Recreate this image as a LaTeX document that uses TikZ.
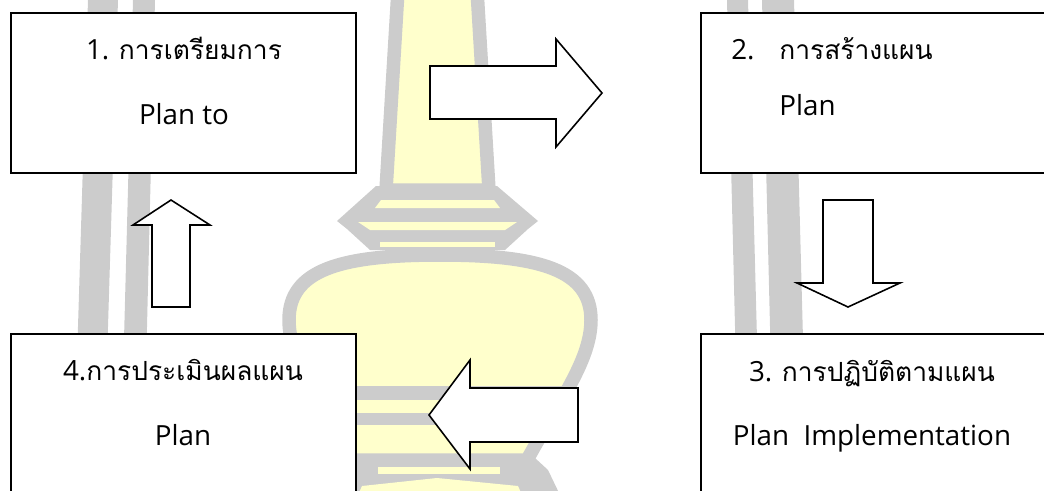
\documentclass[tikz,border=0pt]{standalone}
\usepackage{fontspec}
\setmainfont{Open Sans}
\newfontfamily\thai{Loma}[Script=Thai,Scale=0.95]
\definecolor{wmgray}{HTML}{CCCCCC}
\definecolor{wmyellow}{HTML}{FFFFCC}

\begin{document}
\begin{tikzpicture}[x=0.02cm,y=-0.02cm,
  planbox/.style={draw,line width=1.1pt,fill=white,minimum width=6.9cm,minimum height=3.2cm,inner sep=0pt},
  blockarrow/.style={draw,line width=0.9pt,fill=white,line join=miter},
  label/.style={font=\fontsize{15.8}{18}\selectfont,inner sep=0pt},
  wm/.style={draw=wmgray,fill=wmyellow,line width=0.27cm,line join=round}]
\useasboundingbox (0,0) rectangle (1044,490);

% watermark behind the chart
\fill[wmgray] (88,0) -- (118,0) -- (103,490) -- (73,490) -- cycle;
\fill[wmgray] (133,0) -- (155,0) -- (143,490) -- (120,490) -- cycle;
\fill[wmgray] (727,0) -- (748,0) -- (761,490) -- (739,490) -- cycle;
\fill[wmgray] (762,0) -- (794,0) -- (807,490) -- (774,490) -- cycle;
\path[wm] (398,-10) -- (477,-10) -- (489,190) -- (386,190) -- cycle;
\fill[wmgray] (376,186) -- (497,186) -- (538,221) -- (528,229) -- (505,250) -- (370,250) -- (347,229) -- (337,221) -- cycle;
\fill[wmyellow] (381,200) -- (494,200) -- (500,208) -- (375,208) -- cycle;
\fill[wmyellow] (358,222) -- (517,222) -- (505,230) -- (370,230) -- cycle;
\fill[wmyellow] (380,242) rectangle (495,247);
\fill[wmgray] (345,458) -- (535,458) -- (548,470) -- (560,495) -- (320,495) -- (332,470) -- cycle;
\fill[wmyellow] (378,467) -- (500,467) -- (500,474) -- (378,474) -- cycle;
\fill[wmyellow] (362,486) -- (437,478) -- (518,486) -- (522,495) -- (358,495) -- cycle;
\path[wm] (440,255) .. controls (540,255) and (591,270) .. (591,320)
  .. controls (591,360) and (560,400) .. (527,460) -- (353,460)
  .. controls (320,400) and (289,360) .. (289,320)
  .. controls (289,270) and (340,255) .. (440,255) -- cycle;
\draw[wmgray,line width=0.28cm] (306,393) -- (574,393);
\draw[wmgray,line width=0.24cm] (314,419) -- (562,419);

% boxes
\node[planbox] (prep) at (183.5,93) {};
\node[planbox] (make) at (873.5,93) {};
\node[planbox] (do) at (873.5,414) {};
\node[planbox] (eval) at (183.5,414) {};

\node[label,anchor=base] (prepTh) at (184,59) {1. {\thai การเตรียมการ}};
\node[label,anchor=base] (prepEn) at (184,124) {Plan to};
\node[label,anchor=base west] (makeNo) at (731,59) {2.};
\node[label,anchor=base west] (makeTh) at (779,59) {\thai การสร้างแผน};
\node[label,anchor=base west] (makeEn) at (779,115) {Plan};
\node[label,anchor=base] (doTh) at (872,381) {3. {\thai การปฏิบัติตามแผน}};
\node[label,anchor=base] (doEn) at (872,445) {Plan\ \ Implementation};
\node[label,anchor=base] (evalTh) at (183,380) {4.{\thai การประเมินผลแผน}};
\node[label,anchor=base] (evalEn) at (183,445) {Plan};

% block arrows
\draw[blockarrow] (430,66) -- (556,66) -- (556,39) -- (602,93) -- (556,147) -- (556,119) -- (430,119) -- cycle;
\draw[blockarrow] (823,200) -- (873,200) -- (873,283) -- (900,283) -- (848,307) -- (797,283) -- (823,283) -- cycle;
\draw[blockarrow] (578,388) -- (470,388) -- (470,360) -- (429,415) -- (470,469) -- (470,442) -- (578,442) -- cycle;
\draw[blockarrow] (152,307) -- (152,225) -- (133,225) -- (171,200) -- (210,225) -- (190,225) -- (190,307) -- cycle;
\end{tikzpicture}
\end{document}
